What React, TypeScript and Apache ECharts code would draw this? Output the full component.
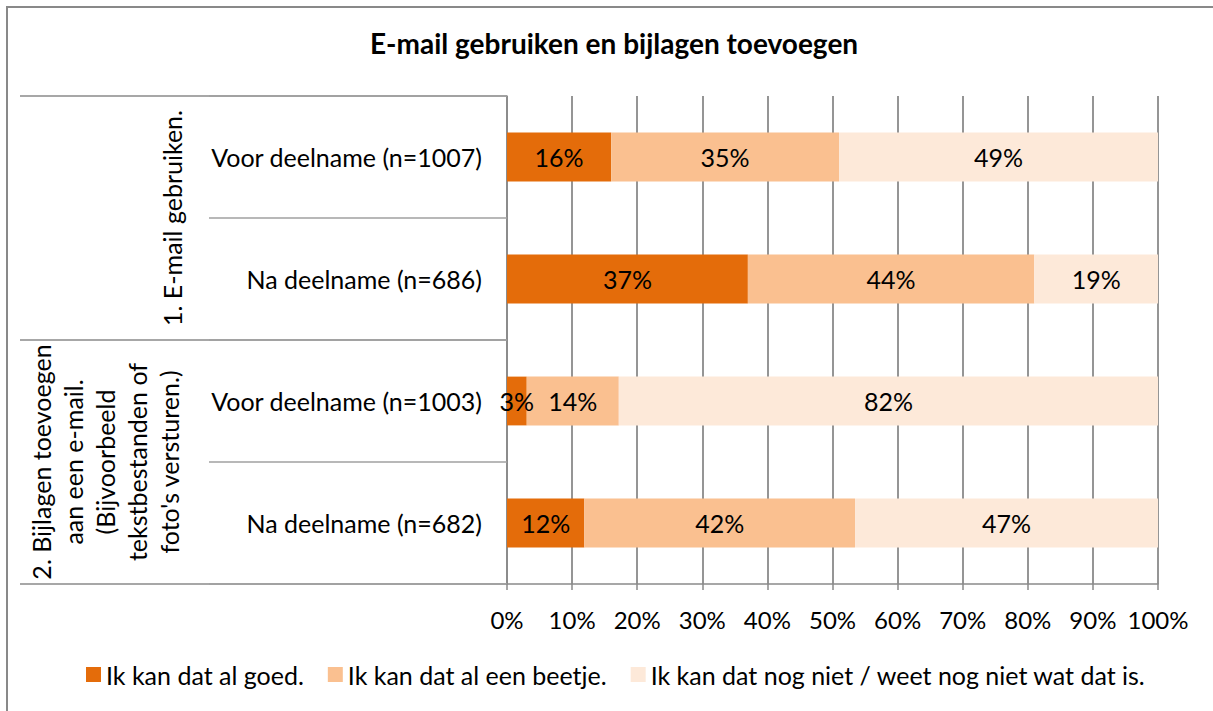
import React, { useEffect, useRef } from "react";
import * as echarts from "echarts";

const chartTitle = "E-mail gebruiken en bijlagen toevoegen";
const groupLabels = [
  "1. E-mail gebruiken.",
  "2. Bijlagen toevoegen\naan een e-mail.\n(Bijvoorbeeld\ntekstbestanden of\nfoto's versturen.)",
];
const groupSizes = [2, 2];
const categories = [
  "Voor deelname (n=1007)",
  "Na deelname (n=686)",
  "Voor deelname (n=1003)",
  "Na deelname (n=682)",
];
const seriesNames = [
  "Ik kan dat al goed.",
  "Ik kan dat al een beetje.",
  "Ik kan dat nog niet / weet nog niet wat dat is.",
];
const goed = [16, 37, 3, 12];
const beetje = [35, 44, 14, 42];
const nogNiet = [49, 19, 82, 47];
const xMin = 0;
const xMax = 100;
const xInterval = 10;
const colors = ["#E46C0A", "#FAC090", "#FDE9D9"];

const FONT = "Lato, 'Open Sans', sans-serif";
const GRAY = "#8a8a8a";
const FS = 25;

export default function App() {
  const ref = useRef<HTMLDivElement>(null);
  useEffect(() => {
    document.body.style.margin = "0";
    if (!ref.current) return;
    const chart = echarts.init(ref.current, null, { renderer: "svg" });
    const seriesValues = [goed, beetje, nogNiet];
    const totals = categories.map((_, i) => goed[i] + beetje[i] + nogNiet[i]);
    const series = seriesValues.map((vals, s) => ({
      name: seriesNames[s],
      type: "bar",
      stack: "total",
      barWidth: "40%",
      itemStyle: { color: colors[s] },
      label: {
        show: true,
        position: "inside",
        color: "#000",
        fontFamily: FONT,
        fontSize: FS,
        formatter: (p: any) => p.data.raw + "%",
      },
      data: vals.map((v, i) => ({ value: (v / totals[i]) * 100, raw: v })),
    }));

    chart.setOption({
      animation: false,
      textStyle: { fontFamily: FONT },
      title: {
        text: chartTitle,
        left: 370,
        top: 29,
        padding: 0,
        textStyle: { fontFamily: FONT, fontSize: 28, fontWeight: "bold", color: "#000" },
      },
      legend: {
        data: seriesNames,
        left: 86,
        padding: 0,
        top: 662,
        icon: "rect",
        itemWidth: 15,
        itemHeight: 15,
        itemGap: 24,
        textStyle: { fontFamily: FONT, fontSize: FS, color: "#000" },
      },
      grid: { left: 507, right: 55, top: 96, bottom: 127, containLabel: false },
      xAxis: {
        type: "value",
        min: xMin,
        max: xMax,
        interval: xInterval,
        axisLine: { show: true, lineStyle: { color: GRAY, width: 1.5 } },
        axisTick: { show: true, length: 6, lineStyle: { color: GRAY, width: 1.5 } },
        splitLine: { show: true, lineStyle: { color: GRAY, width: 1.8 } },
        axisLabel: {
          formatter: "{value}%",
          color: "#000",
          fontFamily: FONT,
          fontSize: 24,
          margin: 23,
        },
      },
      yAxis: {
        type: "category",
        inverse: true,
        data: categories,
        axisLine: { show: true, lineStyle: { color: GRAY, width: 1.5 } },
        axisTick: { show: true, length: 298, lineStyle: { color: "#a0a0a0", width: 1.5 } },
        axisLabel: { color: "#000", fontFamily: FONT, fontSize: FS, margin: 25 },
      },
      series,
    });

    const yc = (i: number) => chart.convertToPixel({ yAxisIndex: 0 }, i) as number;
    const bw = yc(1) - yc(0);
    const x0 = chart.convertToPixel({ xAxisIndex: 0 }, xMin) as number;
    const groupX = [172, 105];
    const graphics: any[] = [
      {
        type: "polyline",
        shape: { points: [[7, 760], [7, 7], [1260, 7]] },
        style: { fill: "none", stroke: "#898989", lineWidth: 2 },
        silent: true,
      },
    ];
    let start = 0;
    const edges = [0];
    groupSizes.forEach((n) => {
      start += n;
      edges.push(start);
    });
    edges.forEach((e) => {
      const y = yc(e) - bw / 2;
      graphics.push({
        type: "line",
        shape: { x1: 20, y1: y, x2: x0, y2: y },
        style: { stroke: GRAY, lineWidth: 1.5 },
        silent: true,
      });
    });
    groupLabels.forEach((g, gi) => {
      const a = edges[gi];
      const b = edges[gi + 1];
      const cy = (yc(a) - bw / 2 + yc(b - 1) + bw / 2) / 2;
      graphics.push({
        type: "text",
        x: groupX[gi],
        y: cy,
        rotation: Math.PI / 2,
        style: {
          text: g,
          fill: "#000",
          font: `${FS}px ${FONT}`,
          fontSize: FS,
          fontFamily: FONT,
          lineHeight: 32,
          align: "center",
          verticalAlign: "middle",
          textAlign: "center",
          textVerticalAlign: "middle",
        },
        silent: true,
      });
    });
    chart.setOption({ graphic: graphics });

    return () => chart.dispose();
  }, []);
  return <div ref={ref} style={{ width: 1213, height: 711 }} />;
}
